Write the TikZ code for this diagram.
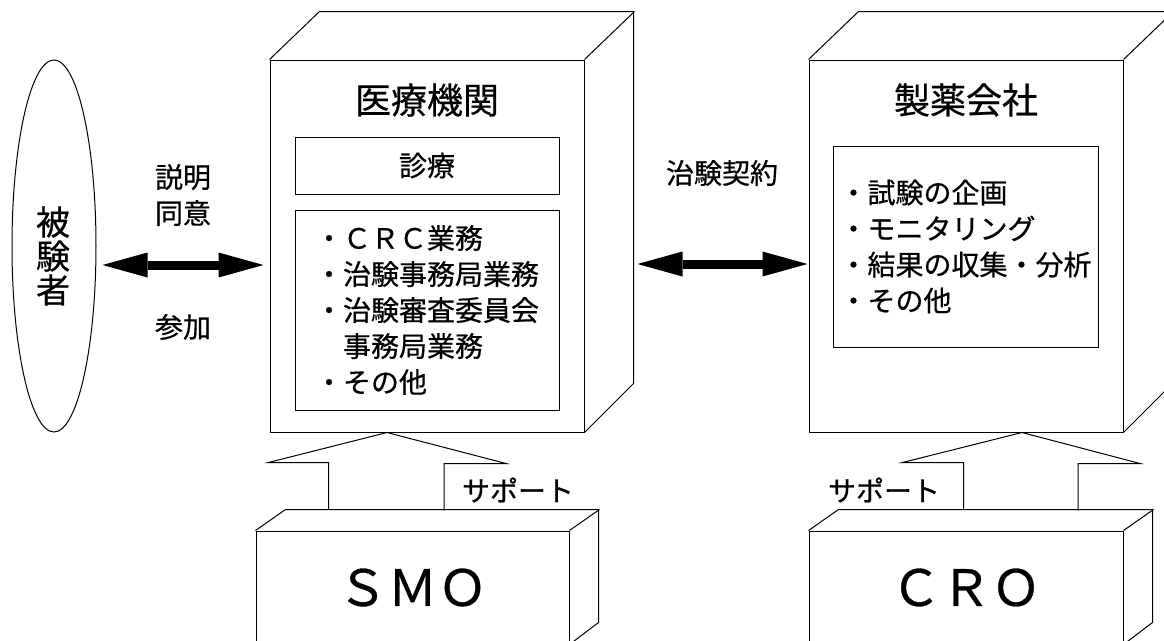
\documentclass[tikz,border=0pt]{standalone}
\usepackage{fontspec}
\setmainfont{Noto Sans CJK JP}[FakeBold=0.6]
\usetikzlibrary{arrows.meta,shapes.geometric}
\begin{document}
\begin{tikzpicture}[x=1pt,y=-1pt,line width=1pt,font=\fontsize{28}{36}\selectfont,>={Triangle[length=45pt,width=25pt,line width=0pt]}]
		\tikzset{box/.style={draw,rectangle,inner sep=0pt},
			dblarrow/.style={<->,line width=9pt},
			big/.style={font=\fontsize{36}{40}\selectfont},
			huge/.style={font=\fontsize{50}{50}\selectfont}}
		\useasboundingbox (0,0) rectangle (1164,640);
		\node[draw,ellipse,minimum width=84pt,minimum height=372pt,inner sep=0pt] (subj) at (54,246) {};
		\node[font=\fontsize{34}{34}\selectfont,align=center] (subjtxt) at (53,256) {被\\験\\者};
		\node[box,minimum width=314pt,minimum height=372pt] (hosp) at (427,246) {};
		\draw (hosp.north west) -- ++(50,-48) -- ++(314,0) -- ++(0,372) -- (hosp.south east);
		\draw (hosp.north east) -- ++(50,-48);
		\node[big] (hosptitle) at (427,100) {医療機関};
		\node[box,minimum width=264pt,minimum height=57pt] (shinryo) at (427,165.5) {診療};
		\node[box,minimum width=264pt,minimum height=200pt,align=left] (hosptask) at (427,310) {・ＣＲＣ業務\\・治験事務局業務\\・治験審査委員会\\　事務局業務\\・その他};
		\node[box,minimum width=314pt,minimum height=372pt] (pharma) at (966,246) {};
		\draw (pharma.north west) -- ++(50,-48) -- ++(314,0) -- ++(0,372) -- (pharma.south east);
		\draw (pharma.north east) -- ++(50,-48);
		\node[big] (pharmatitle) at (966,100) {製薬会社};
		\node[box,minimum width=265pt,minimum height=201pt,align=left] (pharmatask) at (965.5,246.5) {・試験の企画\\・モニタリング\\・結果の収集・分析\\・その他};
		\node[box,huge,minimum width=313pt,minimum height=113pt] (smo) at (412.5,587.5) {ＳＭＯ};
		\draw (smo.north west) -- ++(30,-21) -- ++(313,0) -- ++(0,113) -- (smo.south east);
		\draw (smo.north east) -- ++(30,-21);
		\node[box,huge,minimum width=314pt,minimum height=113pt] (cro) at (966,587.5) {ＣＲＯ};
		\draw (cro.north west) -- ++(30,-21) -- ++(314,0) -- ++(0,113) -- (cro.south east);
		\draw (cro.north east) -- ++(30,-21);
		\draw (smo.north west) ++(73,-21) -- ++(0,-47) -- ++(-60,0) -- ([xshift=-40pt]hosp.south) -- ++(119,31) -- ++(-62,0) -- ++(0,47);
		\draw (cro.north west) ++(155,-21) -- ++(0,-47) -- ++(-61,0) -- ([xshift=56pt]pharma.south) -- ++(118,31) -- ++(-62,0) -- ++(0,47);
		\node (smosup) at (518,490) {サポート};
		\node (crosup) at (884,490) {サポート};
		\draw[dblarrow,shorten <=6pt,shorten >=6pt] ([yshift=-19pt]subj.east) -- ([yshift=-19pt]hosp.west);
		\draw[dblarrow,shorten <=3pt,shorten >=1pt] ([xshift=50pt,yshift=-18pt]hosp.east) -- ([yshift=-18pt]pharma.west);
		\node[align=center] (consent) at (183,195) {説明\\同意};
		\node (join) at (183,327) {参加};
		\node (contract) at (722,173) {治験契約};
	\end{tikzpicture}
\end{document}
